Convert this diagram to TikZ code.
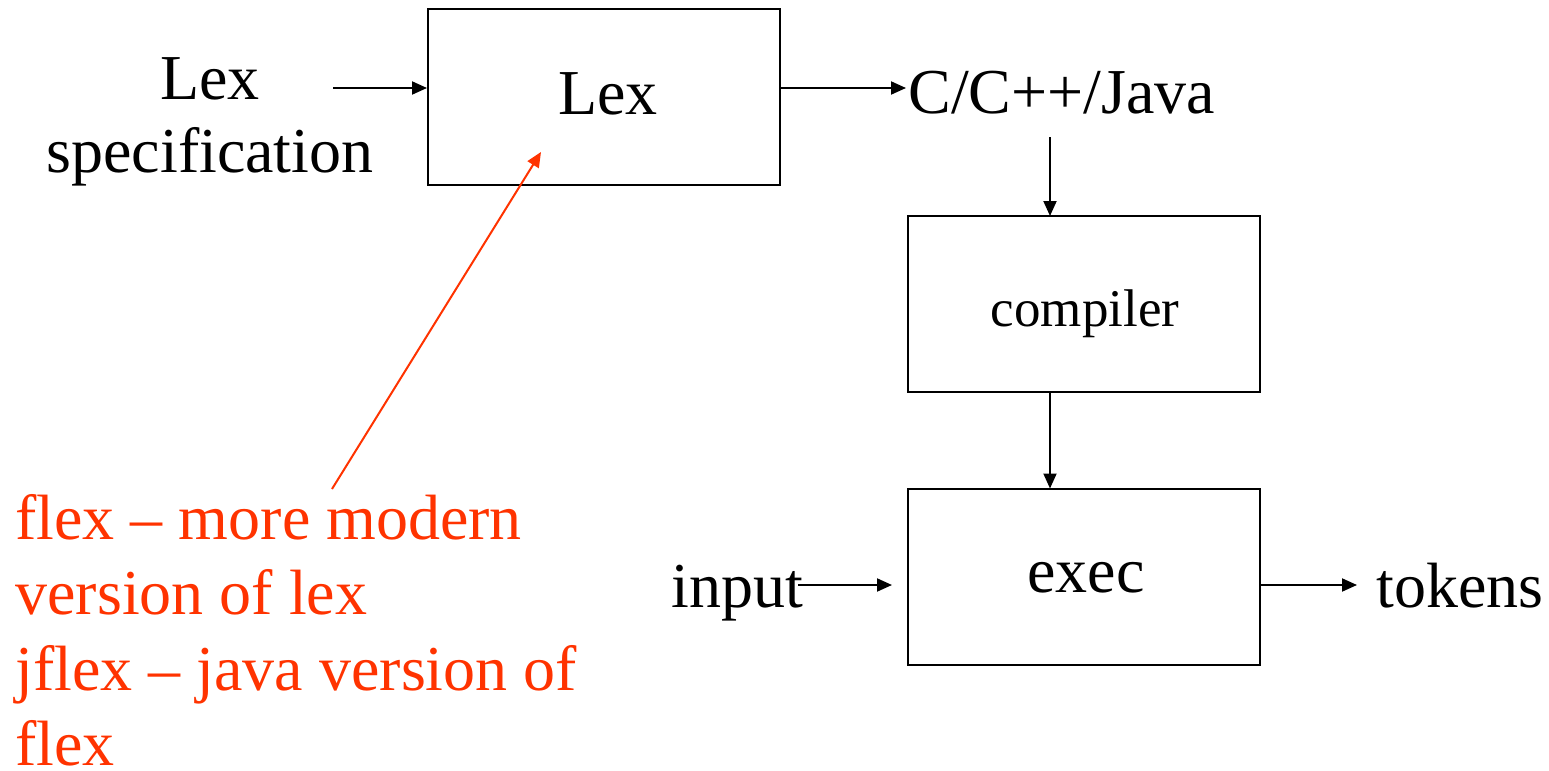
\documentclass[tikz,border=0pt]{standalone}
\usepackage{fontspec}
\setmainfont{Liberation Serif}
\usetikzlibrary{arrows.meta}
\definecolor{flexred}{RGB}{255,51,0}
\begin{document}
\begin{tikzpicture}[x=0.5pt,y=-0.5pt,
  box/.style={draw,line width=1pt,inner sep=0pt},
  big/.style={font=\fontsize{32}{38}\selectfont,inner sep=0pt},
  mid/.style={font=\fontsize{26.5}{32}\selectfont,inner sep=0pt},
  redtxt/.style={font=\fontsize{32}{38}\selectfont,inner sep=0pt,text=flexred,anchor=base west},
  arr/.style={line width=1pt,-{Triangle[length=7.5pt,width=6.5pt]}},
  redarr/.style={draw=flexred,line width=1pt,-{Triangle[length=7.5pt,width=6.5pt]}}]
\useasboundingbox (0,0) rectangle (1549,771);
% boxes
\node[box,minimum width=176pt,minimum height=88pt] (lexbox) at (604,97) {};
\node[box,minimum width=176pt,minimum height=88pt] (compbox) at (1084,304) {};
\node[box,minimum width=176pt,minimum height=88pt] (execbox) at (1084,576.5) {};
% texts
\node[big,anchor=base] (lexlabel) at (210,99) {Lex};
\node[big,anchor=base] (speclabel) at (210,172) {specification};
\node[big,anchor=base] (lexin) at (608,114) {Lex};
\node[big,anchor=base west] (cout) at (908,113) {C/C++/Java};
\node[mid,anchor=base] (compin) at (1085,326) {compiler};
\node[big,anchor=base] (execin) at (1086,592) {exec};
\node[big,anchor=base west] (input) at (671,607) {input};
\node[big,anchor=base west] (tokens) at (1376,607) {tokens};
\node[redtxt] (r1) at (15,539) {flex – more modern};
\node[redtxt] (r2) at (15,614) {version of lex};
\node[redtxt] (r3) at (15,690) {jflex – java version of};
\node[redtxt] (r4) at (15,765) {flex};
% coordinates
\coordinate (specout) at (333,88);
\coordinate (lexin-w) at (lexbox.west |- specout);
\coordinate (lexout) at (lexbox.east |- specout);
\coordinate (coutin) at (906,88);
\coordinate (ctop) at (1050,137);
\coordinate (compin-n) at (1050,216);
\coordinate (compout) at (1050,392);
\coordinate (execin-n) at (1050,488.5);
\coordinate (inpstart) at (798,585);
\coordinate (inpend) at (892,585);
\coordinate (execout) at (execbox.east |- inpend);
\coordinate (tokin) at (1357,585);
\coordinate (redstart) at (332,489);
\coordinate (redend) at (541,152);
% arrows
\draw[arr] (specout) -- (lexin-w);
\draw[arr] (lexout) -- (coutin);
\draw[arr] (ctop) -- (compin-n);
\draw[arr] (compout) -- (execin-n);
\draw[arr] (inpstart) -- (inpend);
\draw[arr] (execout) -- (tokin);
\draw[redarr] (redstart) -- (redend);
\end{tikzpicture}
\end{document}
